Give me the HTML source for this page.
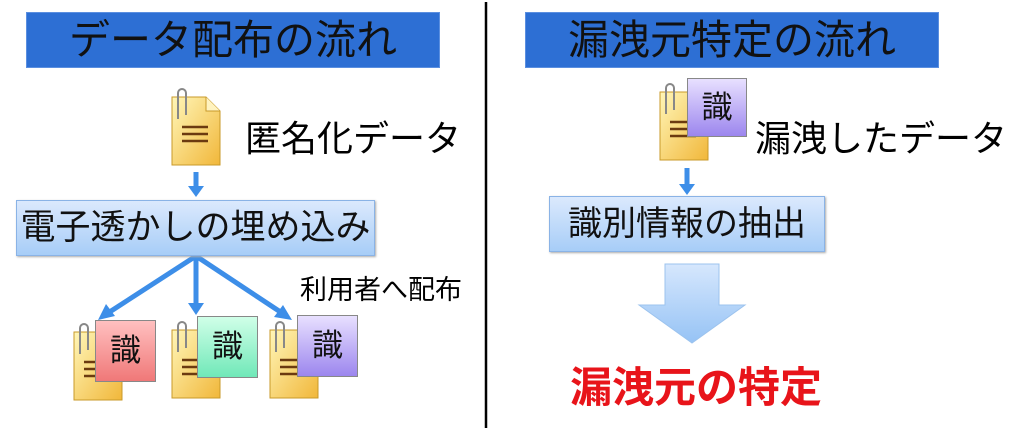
<!DOCTYPE html>
<html><head><meta charset="utf-8"><style>
body{margin:0;width:1024px;height:433px;background:#fff;position:relative;overflow:hidden;font-family:"Liberation Sans","Noto Sans CJK JP",sans-serif;}
.a{position:absolute;white-space:nowrap;}
.title{background:#2d6fd4;border:1px solid #5b8fe0;color:#111;font-size:41px;text-align:center;line-height:54px;}
.box{background:linear-gradient(#dbe9fd,#a7cdf7);border:1px solid #8ab3e6;color:#111;text-align:center;box-shadow:1px 1px 2px #aaa;}
.st{font-size:31px;text-align:center;border:1px solid #888;color:#111;}
</style></head><body>
<svg class="a" style="left:0;top:0" width="1024" height="433">
<defs>
<linearGradient id="dg" x1="0" y1="0" x2="1" y2="1"><stop offset="0" stop-color="#fff6b8"/><stop offset="1" stop-color="#f1b73a"/></linearGradient>
<g id="doc"><path d="M0 0H34L48 14V68H0Z" fill="url(#dg)" stroke="#c89a2a"/><path d="M34 0V14H48" fill="#fff3c0" stroke="#c89a2a"/><path d="M10 30h26M10 37h26M10 44h26" stroke="#6b3a10" stroke-width="2.5"/><path d="M6 22V-4a4 4 0 0 1 8 0V18" fill="none" stroke="#888" stroke-width="2"/></g>
</defs>
<line x1="486" y1="2" x2="486" y2="428" stroke="#000" stroke-width="2.5"/>
<use href="#doc" x="172" y="97"/>
<g stroke="#3d8ee8" fill="#3d8ee8" stroke-width="5">
<line x1="196" y1="172" x2="196" y2="188"/><path d="M188 186h16l-8 11z" stroke="none"/>
<line x1="196" y1="256" x2="108" y2="313"/><path d="M98 320l8-16 9 12z" stroke="none"/>
<line x1="196" y1="256" x2="196" y2="305"/><path d="M188 303h16l-8 12z" stroke="none"/>
<line x1="196" y1="256" x2="282" y2="313"/><path d="M292 320l-18-3 9-12z" stroke="none"/>
<line x1="687" y1="168" x2="687" y2="186"/><path d="M679 184h16l-8 11z" stroke="none"/>
</g>
<use href="#doc" x="74" y="332"/><use href="#doc" x="172" y="330"/><use href="#doc" x="270" y="330"/>
<use href="#doc" x="660" y="92"/>
<defs><linearGradient id="bg" x1="0" y1="0" x2="0" y2="1"><stop offset="0" stop-color="#d6e7fd"/><stop offset="1" stop-color="#96c3f5"/></linearGradient></defs>
<path d="M665 264H719V305H745L692 343L639 305H665Z" fill="url(#bg)" stroke="#9cc3ee"/>
</svg>
<div class="a title" style="left:26px;top:12px;width:412px;height:54px;">データ配布の流れ</div>
<div class="a title" style="left:525px;top:12px;width:412px;height:54px;">漏洩元特定の流れ</div>
<div class="a" style="left:245px;top:110px;font-size:36px;">匿名化データ</div>
<div class="a box" style="left:16px;top:200px;width:357px;height:54px;font-size:35px;line-height:54px;">電子透かしの埋め込み</div>
<div class="a" style="left:300px;top:268px;font-size:27px;">利用者へ配布</div>
<div class="a st" style="left:95px;top:320px;width:59px;height:60px;line-height:60px;background:linear-gradient(#ffc0c0,#f07878);">識</div>
<div class="a st" style="left:197px;top:316px;width:59px;height:60px;line-height:60px;background:linear-gradient(#d0ffe8,#70e8b8);">識</div>
<div class="a st" style="left:297px;top:315px;width:59px;height:60px;line-height:60px;background:linear-gradient(#e8e0ff,#9c86ee);">識</div>
<div class="a st" style="left:687px;top:78px;width:58px;height:57px;line-height:57px;background:linear-gradient(#e8e0ff,#9c86ee);">識</div>
<div class="a" style="left:755px;top:110px;font-size:36px;">漏洩したデータ</div>
<div class="a box" style="left:549px;top:196px;width:274px;height:54px;font-size:34px;line-height:54px;">識別情報の抽出</div>
<div class="a" style="left:570px;top:354px;font-size:42px;font-weight:bold;color:#e8141a;">漏洩元の特定</div>
</body></html>
